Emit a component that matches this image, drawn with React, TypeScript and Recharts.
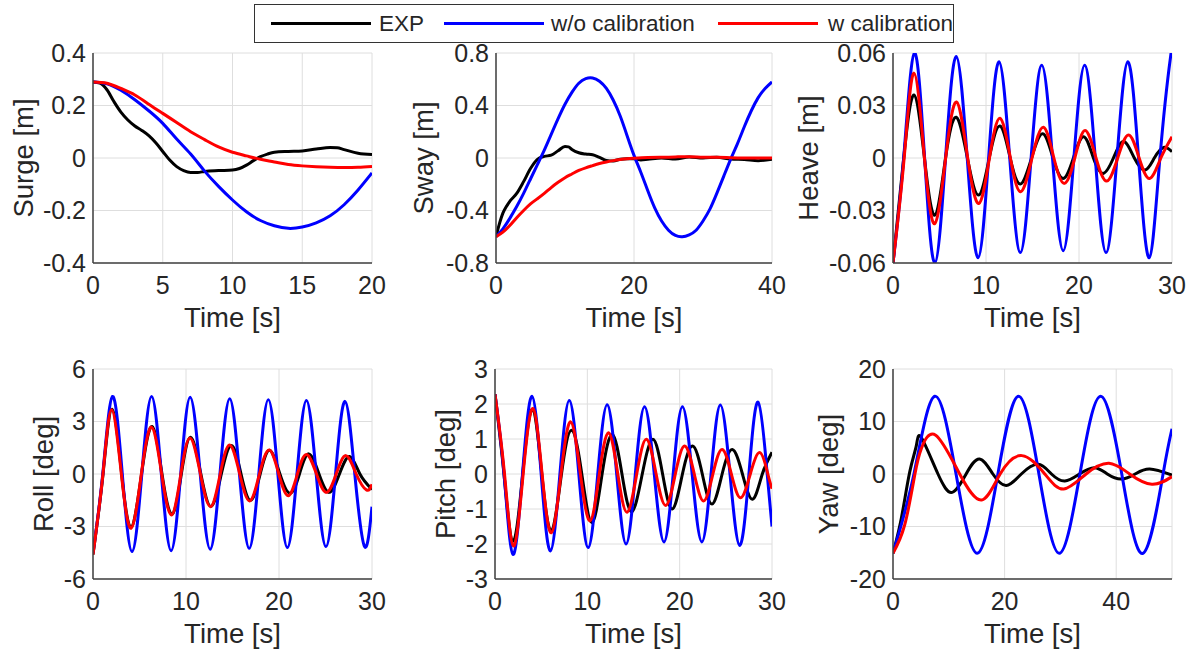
import React from 'react';
import { LineChart, Line, XAxis, YAxis, CartesianGrid } from 'recharts';

type P = [number, number];

// ---------- Surge ----------
const surgeExp: P[] = [[0,0.29],[0.5,0.285],[1,0.26],[1.5,0.215],[2,0.175],[2.5,0.145],[3,0.122],[3.5,0.105],[4,0.085],[4.5,0.058],[5,0.025],[5.5,-0.008],[6,-0.033],[6.5,-0.048],[7,-0.055],[7.5,-0.055],[8,-0.051],[9,-0.048],[10,-0.046],[10.5,-0.04],[11,-0.027],[11.5,-0.01],[12,0.005],[12.5,0.015],[13,0.022],[14,0.025],[15,0.027],[16,0.034],[17,0.04],[17.5,0.039],[18,0.032],[19,0.018],[20,0.013]];
const surgeWo: P[] = [[0,0.29],[1,0.283],[2,0.258],[3,0.222],[4,0.18],[5,0.132],[6,0.072],[7,0.015],[8,-0.05],[9,-0.108],[10,-0.16],[11,-0.205],[12,-0.238],[13,-0.258],[14,-0.268],[15,-0.263],[16,-0.247],[17,-0.22],[18,-0.178],[19,-0.122],[20,-0.057]];
const surgeW: P[] = [[0,0.29],[1,0.285],[2,0.265],[3,0.24],[4,0.205],[5,0.17],[6,0.135],[7,0.1],[8,0.07],[9,0.042],[10,0.022],[11,0.008],[12,-0.005],[13,-0.015],[14,-0.025],[15,-0.03],[16,-0.033],[17,-0.035],[18,-0.036],[19,-0.035],[20,-0.032]];

// ---------- Sway ----------
const swayExp: P[] = [[0,-0.6],[0.5,-0.5],[1,-0.42],[1.5,-0.37],[2,-0.33],[3,-0.27],[4,-0.18],[5,-0.08],[6,-0.01],[7,0.012],[8,0.022],[9,0.055],[10,0.088],[10.5,0.085],[11,0.065],[12,0.04],[13,0.03],[14,0.025],[15,0.005],[16,-0.018],[17,-0.022],[18,-0.01],[19,-0.005],[20,-0.005],[21,-0.015],[22,-0.01],[24,0.0],[26,-0.008],[28,0.008],[30,0.0],[32,0.006],[34,-0.008],[36,-0.012],[38,-0.02],[40,-0.01]];
const swayWo: P[] = [[0,-0.6],[1,-0.54],[2,-0.46],[3,-0.37],[4,-0.27],[5,-0.16],[6,-0.05],[7,0.06],[8,0.18],[9,0.3],[10,0.41],[11,0.5],[12,0.57],[13,0.605],[14,0.61],[15,0.585],[16,0.53],[17,0.44],[18,0.32],[19,0.17],[20,0.02],[21,-0.11],[22,-0.25],[23,-0.38],[24,-0.48],[25,-0.55],[26,-0.59],[27,-0.6],[28,-0.585],[29,-0.55],[30,-0.48],[31,-0.39],[32,-0.27],[33,-0.14],[34,-0.01],[35,0.11],[36,0.24],[37,0.36],[38,0.46],[39,0.53],[40,0.58]];
const swayW: P[] = [[0,-0.6],[1,-0.565],[2,-0.515],[3,-0.455],[4,-0.4],[5,-0.35],[6,-0.31],[7,-0.27],[8,-0.225],[9,-0.185],[10,-0.15],[11,-0.122],[12,-0.095],[13,-0.075],[14,-0.058],[15,-0.042],[16,-0.03],[17,-0.02],[18,-0.012],[19,-0.006],[20,-0.002],[22,0.004],[24,0.006],[26,0.008],[28,0.01],[30,0.006],[32,0.005],[34,0.002],[36,0.0],[38,0.0],[40,0.0]];

// ---------- Heave ----------
const heaveExp: P[] = [[0,-0.06],[1.15,0],[2.26,0.036],[3.38,0],[4.5,-0.0327],[5.65,0],[6.8,0.0233],[8.0,0],[9.2,-0.0212],[10.35,0],[11.5,0.0183],[12.6,0],[13.7,-0.0149],[14.9,0],[16.1,0.0138],[17.2,0],[18.3,-0.0117],[19.4,0],[20.5,0.0122],[21.55,0],[22.6,-0.0088],[23.7,0],[24.8,0.0094],[25.95,0],[27.1,-0.0069],[28.1,0],[29.1,0.006],[30,0.0036]];
const heaveWo: P[] = [[0,-0.06],[1.15,0],[2.3,0.06],[3.4,0],[4.5,-0.06],[5.65,0],[6.8,0.058],[7.98,0],[9.15,-0.057],[10.28,0],[11.4,0.055],[12.55,0],[13.7,-0.054],[14.85,0],[16.0,0.053],[17.15,0],[18.3,-0.053],[19.45,0],[20.6,0.053],[21.75,0],[22.9,-0.054],[24.08,0],[25.25,0.055],[26.4,0],[27.55,-0.057],[28.7,0],[29.85,0.058],[30,0.0575]];
const heaveW: P[] = [[0,-0.06],[1.2,0],[2.26,0.0485],[3.38,0],[4.49,-0.0375],[5.66,0],[6.83,0.032],[8.03,0],[9.23,-0.026],[10.37,0],[11.5,0.0227],[12.62,0],[13.73,-0.0193],[14.95,0],[16.17,0.0176],[17.3,0],[18.43,-0.0145],[19.55,0],[20.66,0.0157],[21.83,0],[22.99,-0.0132],[24.16,0],[25.33,0.0132],[26.47,0],[27.6,-0.0117],[28.8,0],[30,0.0122]];

// ---------- Roll ----------
const rollExp: P[] = [[0,-4.6],[1.08,0],[2.05,3.7],[3.08,0],[4.1,-3.05],[5.22,0],[6.35,2.72],[7.42,0],[8.5,-2.3],[9.5,0],[10.5,2.1],[11.6,0],[12.7,-1.85],[13.8,0],[14.9,1.63],[15.92,0],[16.95,-1.5],[17.98,0],[19.0,1.35],[20.1,0],[21.2,-1.1],[22.2,0],[23.2,1.15],[24.3,0],[25.4,-1.05],[26.5,0],[27.6,1.0],[28.7,0],[30,-0.88]];
const rollWo: P[] = [[0,-4.5],[1.05,0],[2.1,4.43],[3.15,0],[4.2,-4.43],[5.25,0],[6.3,4.43],[7.35,0],[8.4,-4.38],[9.43,0],[10.45,4.38],[11.53,0],[12.6,-4.3],[13.65,0],[14.7,4.3],[15.75,0],[16.8,-4.25],[17.83,0],[18.85,4.25],[19.88,0],[20.9,-4.2],[21.93,0],[22.95,4.2],[24.0,0],[25.05,-4.15],[26.08,0],[27.1,4.15],[28.15,0],[29.2,-4.15],[30,-1.87]];
const rollW: P[] = [[0,-4.6],[1.07,0],[2.0,3.67],[3.05,0],[4.1,-3.1],[5.2,0],[6.3,2.68],[7.38,0],[8.45,-2.34],[9.45,0],[10.45,2.05],[11.55,0],[12.65,-1.87],[13.68,0],[14.7,1.66],[15.78,0],[16.85,-1.54],[17.9,0],[18.95,1.37],[19.98,0],[21.0,-1.24],[21.98,0],[22.95,1.12],[24.03,0],[25.1,-1.05],[26.15,0],[27.2,1.05],[28.3,0],[29.4,-0.91],[30,-0.59]];

// ---------- Pitch ----------
const pitchExp: P[] = [[0,2.28],[0.97,0],[1.95,-1.92],[3.0,0],[4.05,1.85],[5.07,0],[6.1,-1.62],[7.2,0],[8.3,1.25],[9.4,0],[10.5,-1.39],[11.6,0],[12.7,1.13],[13.75,0],[14.8,-1.08],[15.95,0],[17.1,0.99],[18.15,0],[19.2,-1.0],[20.3,0],[21.4,0.8],[22.45,0],[23.5,-0.86],[24.6,0],[25.7,0.7],[26.8,0],[27.9,-0.72],[28.95,0],[30,0.62]];
const pitchWo: P[] = [[0,2.28],[0.98,0],[1.95,-2.3],[2.98,0],[4.0,2.22],[5.0,0],[6.0,-2.2],[7.03,0],[8.05,2.1],[9.08,0],[10.1,-2.1],[11.13,0],[12.15,1.98],[13.18,0],[14.2,-2.0],[15.2,0],[16.2,1.92],[17.25,0],[18.3,-1.94],[19.3,0],[20.3,1.92],[21.35,0],[22.4,-1.94],[23.4,0],[24.4,1.97],[25.45,0],[26.5,-2.04],[27.5,0],[28.5,2.05],[29.48,0],[30,-1.5]];
const pitchW: P[] = [[0,2.28],[1.03,0],[2.0,-2.06],[3.05,0],[4.1,1.87],[5.1,0],[6.1,-1.68],[7.15,0],[8.2,1.49],[9.25,0],[10.3,-1.34],[11.3,0],[12.3,1.18],[13.3,0],[14.3,-1.09],[15.35,0],[16.4,0.99],[17.45,0],[18.5,-0.9],[19.53,0],[20.55,0.8],[21.58,0],[22.6,-0.77],[23.6,0],[24.6,0.7],[25.6,0],[26.6,-0.68],[27.65,0],[28.7,0.61],[29.55,0],[30,-0.42]];

// ---------- Yaw ----------
const yawExp: P[] = [[0,-15.1],[1.5,-8.4],[3.0,0.4],[4.2,5.5],[5.1,6.9],[8.06,0],[10.6,-3.5],[13.1,0],[15.5,2.86],[17.9,0],[20.3,-2.2],[23.0,0],[26.0,1.84],[28.4,0],[30.8,-1.33],[33.4,0],[36.1,1.21],[38.4,0],[40.9,-0.96],[43.4,0],[46.0,0.95],[50,-0.2]];
const yawWo: P[] = [[0,-15.1],[3.75,0],[7.5,14.8],[11.3,0],[15.1,-15.1],[18.8,0],[22.5,14.8],[26.15,0],[29.8,-15.1],[33.5,0],[37.2,14.8],[41.0,0],[44.8,-15.1],[48.4,0],[50,8.6]];
const yawW: P[] = [[0,-15.1],[2.1,-9.7],[3.9,-0.2],[5.1,4.9],[7.65,7.4],[11.95,0],[15.9,-4.95],[19.2,0],[23.1,3.5],[27.2,0],[30.6,-2.86],[34.6,0],[38.7,2.03],[42.4,0],[46.4,-1.97],[50,-0.5]];

// ---------- Axis ranges and ticks ----------
const surgeXDomain: [number, number] = [0, 20];
const surgeXTicks = [0, 5, 10, 15, 20];
const surgeYTicks = [-0.4, -0.2, 0, 0.2, 0.4];
const swayXDomain: [number, number] = [0, 40];
const swayXTicks = [0, 20, 40];
const swayYTicks = [-0.8, -0.4, 0, 0.4, 0.8];
const heaveXDomain: [number, number] = [0, 30];
const heaveXTicks = [0, 10, 20, 30];
const heaveYTicks = [-0.06, -0.03, 0, 0.03, 0.06];
const rollXDomain: [number, number] = [0, 30];
const rollXTicks = [0, 10, 20, 30];
const rollYTicks = [-6, -3, 0, 3, 6];
const pitchXDomain: [number, number] = [0, 30];
const pitchXTicks = [0, 10, 20, 30];
const pitchYTicks = [-3, -2, -1, 0, 1, 2, 3];
const yawXDomain: [number, number] = [0, 50];
const yawXTicks = [0, 20, 40];
const yawYTicks = [-20, -10, 0, 10, 20];

const legendNames = ['EXP', 'w/o calibration', 'w calibration'];

const FONT = '"Liberation Sans", Arial, Helvetica, sans-serif';
const C_EXP = '#000000';
const C_WO = '#0000ff';
const C_W = '#ff0000';

const toData = (a: P[]) => a.map(([t, v]) => ({ t, v }));

interface PanelProps {
  left: number; top: number; width: number; height: number;
  xDomain: [number, number]; xTicks: number[]; yTicks: number[];
  yLabel: string; yGap: number;
  exp: P[]; wo: P[]; w: P[];
  smoothExp?: 'natural' | 'monotone';
}

const ML = 100, MT = 20, MR = 30, MB = 80;

function Panel(p: PanelProps) {
  const yDom: [number, number] = [p.yTicks[0], p.yTicks[p.yTicks.length - 1]];
  const tickStyle = { fill: '#262626', fontSize: 25, fontFamily: FONT };
  const yLabelFn = (props: any) => {
    const vb = props.viewBox || {};
    const x = vb.x + vb.width - p.yGap;
    const y = vb.y + vb.height / 2;
    return (
      <text x={x} y={y} transform={`rotate(-90 ${x} ${y})`} textAnchor="middle"
        fill="#262626" fontSize={27.5} fontFamily={FONT}>{p.yLabel}</text>
    );
  };
  const xLabelFn = (props: any) => {
    const vb = props.viewBox || {};
    return (
      <text x={vb.x + vb.width / 2} y={vb.y + 64} textAnchor="middle"
        fill="#262626" fontSize={27.5} fontFamily={FONT}>Time [s]</text>
    );
  };
  return (
    <div style={{ position: 'absolute', left: p.left - ML, top: p.top - MT }}>
      <LineChart width={p.width + ML + MR} height={p.height + MT + MB}
        margin={{ top: MT, right: MR, bottom: 0, left: 0 }}>
        <CartesianGrid stroke="#dedede" strokeWidth={1} />
        <XAxis type="number" dataKey="t" domain={p.xDomain} ticks={p.xTicks} allowDataOverflow
          interval={0} height={MB} tickSize={0} tickMargin={13} tick={tickStyle}
          axisLine={{ stroke: '#404040', strokeWidth: 1.5 }} tickLine={false}
          label={xLabelFn} />
        <YAxis type="number" dataKey="v" domain={yDom} ticks={p.yTicks} allowDataOverflow
          interval={0} width={ML} tickSize={0} tickMargin={7} tick={tickStyle}
          axisLine={{ stroke: '#404040', strokeWidth: 1.5 }} tickLine={false}
          label={yLabelFn} />
        <Line data={toData(p.exp)} dataKey="v" type={p.smoothExp || 'natural'} stroke={C_EXP}
          strokeWidth={3} dot={false} isAnimationActive={false} />
        <Line data={toData(p.wo)} dataKey="v" type="natural" stroke={C_WO}
          strokeWidth={3} dot={false} isAnimationActive={false} />
        <Line data={toData(p.w)} dataKey="v" type="natural" stroke={C_W}
          strokeWidth={3} dot={false} isAnimationActive={false} />
      </LineChart>
    </div>
  );
}

function LegendBox() {
  const items = [
    { name: legendNames[0], color: C_EXP, lx: 270, tx: 378 },
    { name: legendNames[1], color: C_WO, lx: 443, tx: 550 },
    { name: legendNames[2], color: C_W, lx: 717, tx: 827 },
  ];
  return (
    <div style={{ position: 'absolute', left: 254, top: 4, width: 700, height: 39,
      border: '1.5px solid #333', boxSizing: 'border-box', background: '#fff' }}>
      {items.map((it) => (
        <React.Fragment key={it.name}>
          <div style={{ position: 'absolute', left: it.lx - 254, top: 17, width: 100, height: 2.5,
            background: it.color }} />
          <div style={{ position: 'absolute', left: it.tx - 254, top: 4, height: 30, lineHeight: '30px',
            fontSize: 22.5, fontFamily: FONT, color: '#262626', whiteSpace: 'nowrap' }}>{it.name}</div>
        </React.Fragment>
      ))}
    </div>
  );
}

export default function App() {
  return (
    <div style={{ position: 'absolute', left: 0, top: 0, width: 1188, height: 653, background: '#fff', overflow: 'hidden' }}>
      <Panel left={93} top={53} width={279} height={210} xDomain={surgeXDomain} xTicks={surgeXTicks} yTicks={surgeYTicks}
        yLabel="Surge [m]" yGap={60} exp={surgeExp} wo={surgeWo} w={surgeW} smoothExp="monotone" />
      <Panel left={496} top={53} width={276} height={210} xDomain={swayXDomain} xTicks={swayXTicks} yTicks={swayYTicks}
        yLabel="Sway [m]" yGap={63} exp={swayExp} wo={swayWo} w={swayW} smoothExp="monotone" />
      <Panel left={893} top={53} width={279} height={210} xDomain={heaveXDomain} xTicks={heaveXTicks} yTicks={heaveYTicks}
        yLabel="Heave [m]" yGap={75} exp={heaveExp} wo={heaveWo} w={heaveW} />
      <Panel left={93} top={369} width={279} height={210} xDomain={rollXDomain} xTicks={rollXTicks} yTicks={rollYTicks}
        yLabel="Roll [deg]" yGap={40} exp={rollExp} wo={rollWo} w={rollW} />
      <Panel left={495} top={369} width={277} height={210} xDomain={pitchXDomain} xTicks={pitchXTicks} yTicks={pitchYTicks}
        yLabel="Pitch [deg]" yGap={40} exp={pitchExp} wo={pitchWo} w={pitchW} />
      <Panel left={893} top={369} width={279} height={210} xDomain={yawXDomain} xTicks={yawXTicks} yTicks={yawYTicks}
        yLabel="Yaw [deg]" yGap={55} exp={yawExp} wo={yawWo} w={yawW} />
      <LegendBox />
    </div>
  );
}
